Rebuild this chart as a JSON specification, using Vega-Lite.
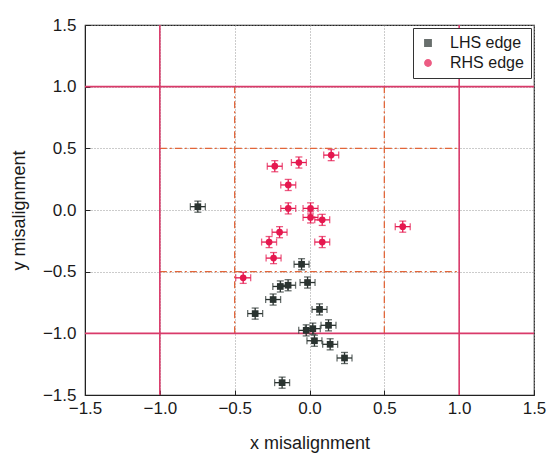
{
  "$schema": "https://vega.github.io/schema/vega-lite/v6.json",
  "width": 449,
  "height": 370,
  "autosize": {"type": "none"},
  "padding": {"left": 85, "top": 25, "right": 14, "bottom": 62},
  "background": "white",
  "config": {
    "font": "Liberation Sans",
    "view": {"stroke": "#222", "strokeWidth": 1.2},
    "axis": {
      "labelFont": "Liberation Sans",
      "titleFont": "Liberation Sans",
      "labelFontSize": 17,
      "titleFontSize": 18,
      "labelColor": "#1a1a1a",
      "titleColor": "#1a1a1a",
      "titleFontWeight": "normal",
      "domainColor": "#222",
      "tickColor": "#222",
      "gridColor": "#999",
      "gridDash": [1, 2],
      "gridWidth": 1,
      "labelOverlap": false,
      "labelFlush": false
    }
  },
  "datasets": {
    "pts": [
      {"s": "LHS edge", "x": -0.746, "y": 0.027, "ex": 0.05, "ey": 0.045},
      {"s": "LHS edge", "x": -0.053, "y": -0.44, "ex": 0.05, "ey": 0.045},
      {"s": "LHS edge", "x": -0.013, "y": -0.588, "ex": 0.05, "ey": 0.045},
      {"s": "LHS edge", "x": -0.143, "y": -0.61, "ex": 0.05, "ey": 0.045},
      {"s": "LHS edge", "x": -0.195, "y": -0.62, "ex": 0.05, "ey": 0.045},
      {"s": "LHS edge", "x": -0.243, "y": -0.726, "ex": 0.05, "ey": 0.045},
      {"s": "LHS edge", "x": -0.363, "y": -0.84, "ex": 0.05, "ey": 0.045},
      {"s": "LHS edge", "x": 0.067, "y": -0.806, "ex": 0.05, "ey": 0.045},
      {"s": "LHS edge", "x": 0.127, "y": -0.935, "ex": 0.05, "ey": 0.045},
      {"s": "LHS edge", "x": -0.022, "y": -0.976, "ex": 0.05, "ey": 0.045},
      {"s": "LHS edge", "x": 0.022, "y": -0.962, "ex": 0.05, "ey": 0.045},
      {"s": "LHS edge", "x": 0.033, "y": -1.06, "ex": 0.05, "ey": 0.045},
      {"s": "LHS edge", "x": 0.138, "y": -1.089, "ex": 0.05, "ey": 0.045},
      {"s": "LHS edge", "x": 0.234, "y": -1.2, "ex": 0.05, "ey": 0.045},
      {"s": "LHS edge", "x": -0.183, "y": -1.4, "ex": 0.05, "ey": 0.045},
      {"s": "RHS edge", "x": 0.145, "y": 0.445, "ex": 0.05, "ey": 0.045},
      {"s": "RHS edge", "x": -0.071, "y": 0.385, "ex": 0.05, "ey": 0.045},
      {"s": "RHS edge", "x": -0.232, "y": 0.355, "ex": 0.05, "ey": 0.045},
      {"s": "RHS edge", "x": -0.142, "y": 0.203, "ex": 0.05, "ey": 0.045},
      {"s": "RHS edge", "x": -0.142, "y": 0.013, "ex": 0.05, "ey": 0.045},
      {"s": "RHS edge", "x": 0.007, "y": 0.013, "ex": 0.05, "ey": 0.045},
      {"s": "RHS edge", "x": 0.007, "y": -0.06, "ex": 0.05, "ey": 0.045},
      {"s": "RHS edge", "x": 0.085, "y": -0.08, "ex": 0.05, "ey": 0.045},
      {"s": "RHS edge", "x": 0.085, "y": -0.26, "ex": 0.05, "ey": 0.045},
      {"s": "RHS edge", "x": -0.2, "y": -0.18, "ex": 0.05, "ey": 0.045},
      {"s": "RHS edge", "x": -0.27, "y": -0.26, "ex": 0.05, "ey": 0.045},
      {"s": "RHS edge", "x": -0.24, "y": -0.39, "ex": 0.05, "ey": 0.045},
      {"s": "RHS edge", "x": -0.443, "y": -0.55, "ex": 0.05, "ey": 0.045},
      {"s": "RHS edge", "x": 0.623, "y": -0.135, "ex": 0.05, "ey": 0.045}
    ],
    "vsolid": [{"v": -1}, {"v": 1}],
    "hdash": [{"y": -0.5, "a": -1, "b": 1}, {"y": 0.5, "a": -1, "b": 1}],
    "vdash": [{"x": -0.5, "a": -1, "b": 1}, {"x": 0.5, "a": -1, "b": 1}]
  },
  "layer": [
    {
      "data": {"name": "hdash"},
      "mark": {"type": "rule", "color": "#e2663a", "strokeWidth": 1.3, "strokeDash": [7, 3, 2, 3]},
      "encoding": {
        "y": {"field": "y", "type": "quantitative", "title": "y misalignment", "scale": {"domain": [-1.5, 1.5], "nice": false, "zero": false},
          "axis": {
            "values": [-1.5, -1.25, -1, -0.75, -0.5, -0.25, 0, 0.25, 0.5, 0.75, 1, 1.25, 1.5],
            "labelExpr": "abs(datum.value % 0.5) < 0.001 ? format(datum.value, '.1f') : ''",
            "tickSize": {"condition": {"test": "abs(datum.value % 0.5) < 0.001", "value": -5}, "value": -3},
            "gridOpacity": {"condition": {"test": "abs(datum.value % 0.5) < 0.001", "value": 1}, "value": 0},
            "labelPadding": 14,
            "titlePadding": 14
          }},
        "x": {"field": "a", "type": "quantitative", "title": "x misalignment", "scale": {"domain": [-1.5, 1.5], "nice": false, "zero": false},
          "axis": {
            "values": [-1.5, -1.25, -1, -0.75, -0.5, -0.25, 0, 0.25, 0.5, 0.75, 1, 1.25, 1.5],
            "labelExpr": "abs(datum.value % 0.5) < 0.001 ? format(datum.value, '.1f') : ''",
            "tickSize": {"condition": {"test": "abs(datum.value % 0.5) < 0.001", "value": -5}, "value": -3},
            "gridOpacity": {"condition": {"test": "abs(datum.value % 0.5) < 0.001", "value": 1}, "value": 0},
            "labelPadding": 10,
            "titlePadding": 18
          }},
        "x2": {"field": "b"}
      }
    },
    {
      "data": {"name": "vdash"},
      "mark": {"type": "rule", "color": "#e2663a", "strokeWidth": 1.3, "strokeDash": [7, 3, 2, 3]},
      "encoding": {
        "x": {"field": "x", "type": "quantitative", "title": "x misalignment", "scale": {"domain": [-1.5, 1.5], "nice": false, "zero": false}},
        "y": {"field": "a", "type": "quantitative", "title": "y misalignment", "scale": {"domain": [-1.5, 1.5], "nice": false, "zero": false}},
        "y2": {"field": "b"}
      }
    },
    {
      "data": {"name": "vsolid"},
      "mark": {"type": "rule", "color": "#d93a6a", "strokeWidth": 1.6},
      "encoding": {"x": {"field": "v", "type": "quantitative", "title": "x misalignment", "scale": {"domain": [-1.5, 1.5], "nice": false, "zero": false}}}
    },
    {
      "data": {"name": "vsolid"},
      "mark": {"type": "rule", "color": "#d93a6a", "strokeWidth": 1.6},
      "encoding": {"y": {"field": "v", "type": "quantitative", "title": "y misalignment", "scale": {"domain": [-1.5, 1.5], "nice": false, "zero": false}}}
    },
    {
      "data": {"name": "pts"},
      "mark": {"type": "errorbar", "ticks": {"size": 7}, "thickness": 1.3},
      "encoding": {
        "x": {"field": "x", "type": "quantitative", "title": "x misalignment", "scale": {"domain": [-1.5, 1.5], "nice": false, "zero": false}},
        "xError": {"field": "ex"},
        "y": {"field": "y", "type": "quantitative", "title": "y misalignment", "scale": {"domain": [-1.5, 1.5], "nice": false, "zero": false}},
        "color": {"field": "s", "type": "nominal", "title": null, "scale": {"domain": ["LHS edge", "RHS edge"], "range": ["#2a3330", "#e5184f"]}}
      }
    },
    {
      "data": {"name": "pts"},
      "mark": {"type": "errorbar", "ticks": {"size": 7}, "thickness": 1.3},
      "encoding": {
        "y": {"field": "y", "type": "quantitative", "title": "y misalignment", "scale": {"domain": [-1.5, 1.5], "nice": false, "zero": false}},
        "yError": {"field": "ey"},
        "x": {"field": "x", "type": "quantitative", "title": "x misalignment", "scale": {"domain": [-1.5, 1.5], "nice": false, "zero": false}},
        "color": {"field": "s", "type": "nominal", "title": null}
      }
    },
    {
      "data": {"name": "pts"},
      "mark": {"type": "point", "filled": true, "opacity": 1, "size": 45},
      "encoding": {
        "x": {"field": "x", "type": "quantitative", "title": "x misalignment", "scale": {"domain": [-1.5, 1.5], "nice": false, "zero": false}},
        "y": {"field": "y", "type": "quantitative", "title": "y misalignment", "scale": {"domain": [-1.5, 1.5], "nice": false, "zero": false}},
        "color": {"field": "s", "type": "nominal", "title": null,
          "legend": {"title": null, "orient": "top-right", "offset": 3, "strokeColor": "#333", "fillColor": "white",
            "padding": 7, "labelFontSize": 16, "labelFont": "Liberation Sans", "labelColor": "#1a1a1a", "labelOffset": 14,
            "symbolSize": 40, "symbolOpacity": 1, "rowPadding": 4}},
        "shape": {"field": "s", "type": "nominal", "title": null, "scale": {"domain": ["LHS edge", "RHS edge"], "range": ["square", "circle"]},
          "legend": {"title": null, "orient": "top-right", "offset": 3}}
      }
    }
  ]
}
